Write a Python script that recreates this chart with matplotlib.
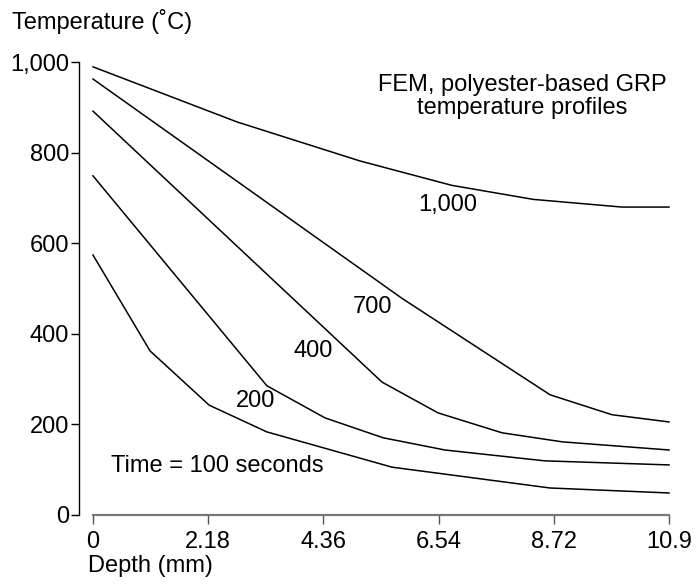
import numpy as np
import matplotlib
matplotlib.use("Agg")
import matplotlib.pyplot as plt
from matplotlib.ticker import FuncFormatter

plt.rcParams['font.family'] = ['Liberation Sans', 'DejaVu Sans']

# depth (mm) / temperature (C) vertices, one set per time
depth_100 = [0, 1.08, 2.20, 3.29, 5.66, 8.65, 10.9]
temp_100 = [574, 362, 242, 183, 105, 59, 48]

depth_200 = [0, 3.29, 4.39, 5.49, 6.66, 8.55, 10.9]
temp_200 = [749, 285, 214, 170, 143, 119, 110]

depth_400 = [0, 5.47, 6.53, 7.74, 8.88, 10.9]
temp_400 = [892, 293, 225, 181, 161, 143]

depth_700 = [0, 5.85, 8.65, 9.82, 10.9]
temp_700 = [963, 478, 265, 221, 205]

depth_1000 = [0, 2.73, 5.05, 6.79, 8.33, 10.01, 10.9]
temp_1000 = [990, 868, 782, 728, 697, 680, 680]

x_ticks = [0, 2.18, 4.36, 6.54, 8.72, 10.9]
x_tick_labels = ['0', '2.18', '4.36', '6.54', '8.72', '10.9']
y_ticks = [0, 200, 400, 600, 800, 1000]

# label text and position for each curve
curve_labels = ['Time = 100 seconds', '200', '400', '700', '1,000']
label_x = [2.35, 3.07, 4.16, 5.28, 6.72]
label_y = [108, 251, 361, 459, 684]

FS = 17

fig = plt.figure(figsize=(6.96, 5.85), dpi=100)
ax = fig.add_axes([0.1336, 0.1202, 0.8276, 0.7733])

for xs, ys in [(depth_100, temp_100), (depth_200, temp_200), (depth_400, temp_400),
               (depth_700, temp_700), (depth_1000, temp_1000)]:
    ax.plot(xs, ys, color='black', linewidth=1.1, clip_on=False)

for txt, lx, ly in zip(curve_labels, label_x, label_y):
    ax.text(lx, ly, txt, fontsize=FS, ha='center', va='center')

ax.text(8.12, 925, 'FEM, polyester-based GRP\ntemperature profiles',
        fontsize=FS, ha='center', va='center', linespacing=1.05)

ax.set_xlim(0, 10.9)
ax.set_ylim(0, 1000)
ax.set_xticks(x_ticks)
ax.set_xticklabels(x_tick_labels)
ax.set_yticks(y_ticks)
ax.yaxis.set_major_formatter(FuncFormatter(lambda v, p: f'{int(v):,}'))

ax.spines['top'].set_visible(False)
ax.spines['right'].set_visible(False)
ax.spines['left'].set_position(('outward', 10))
ax.spines['left'].set_color('black')
ax.spines['left'].set_linewidth(1.0)
ax.spines['bottom'].set_color('#777777')
ax.spines['bottom'].set_linewidth(1.6)

ax.tick_params(axis='y', direction='out', length=5.8, width=1.0, color='black',
               labelsize=FS, pad=1.5)
ax.tick_params(axis='x', direction='out', length=6.5, width=1.0, color='#555555',
               labelsize=FS, pad=5)

fig.text(12 / 696, 1 - 21 / 585, 'Temperature (˚C)', fontsize=FS, ha='left', va='center')
fig.text(88 / 696, 1 - 566 / 585, 'Depth (mm)', fontsize=FS, ha='left', va='center')

fig.savefig('out.png', dpi=100)
